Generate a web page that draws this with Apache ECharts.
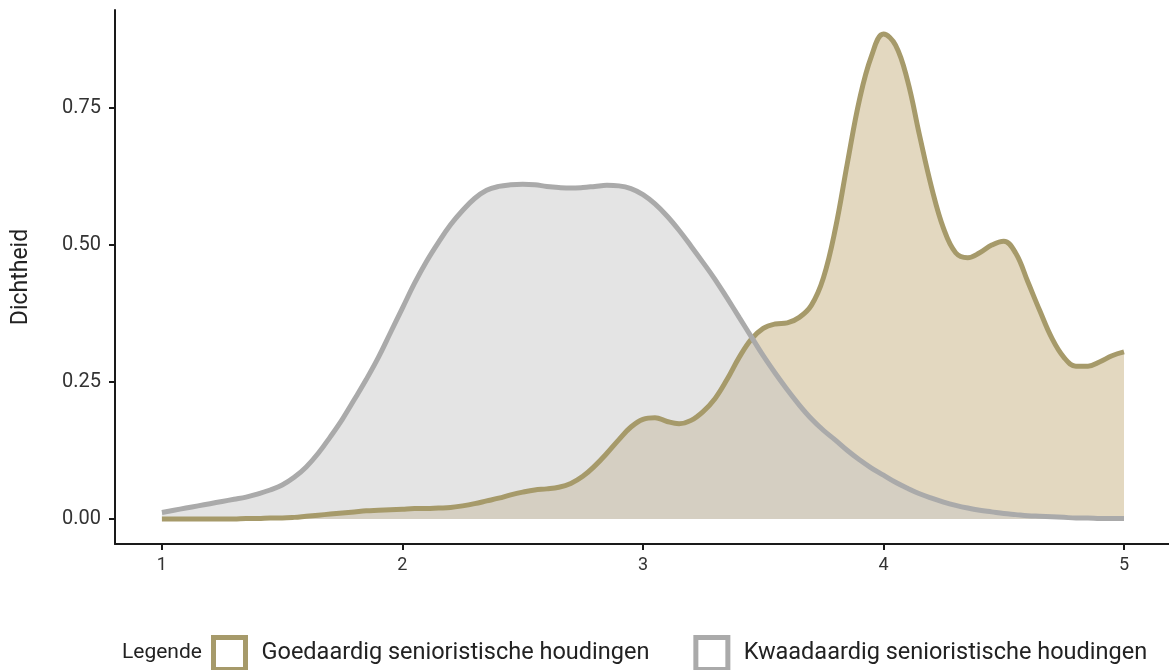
<!DOCTYPE html>
<html>
<head>
<meta charset="utf-8">
<script src="https://cdn.jsdelivr.net/npm/echarts@6/dist/echarts.min.js"></script>
<style>
  html, body { margin: 0; padding: 0; background: #fff; }
  #main { width: 1169px; height: 670px; }
</style>
</head>
<body>
<div id="main"></div>
<script>
// x-waarden (schaal 1-5) en geschatte dichtheden
var xs = [1.00, 1.05, 1.10, 1.15, 1.20, 1.25, 1.30, 1.35, 1.40, 1.45,
          1.50, 1.55, 1.60, 1.65, 1.70, 1.75, 1.80, 1.85, 1.90, 1.95,
          2.00, 2.05, 2.10, 2.15, 2.20, 2.25, 2.30, 2.35, 2.40, 2.45,
          2.50, 2.55, 2.60, 2.65, 2.70, 2.75, 2.80, 2.85, 2.90, 2.95,
          3.00, 3.05, 3.10, 3.15, 3.20, 3.25, 3.30, 3.35, 3.40, 3.45,
          3.50, 3.55, 3.60, 3.65, 3.70, 3.75, 3.80, 3.85, 3.90, 3.95,
          4.00, 4.05, 4.10, 4.15, 4.20, 4.25, 4.30, 4.35, 4.40, 4.45,
          4.50, 4.55, 4.60, 4.65, 4.70, 4.75, 4.80, 4.85, 4.90, 4.95, 5.00];

var goedaardig = [0.000, 0.000, 0.000, 0.000, 0.000, 0.000, 0.000, 0.001, 0.001, 0.002,
                  0.002, 0.003, 0.005, 0.007, 0.009, 0.011, 0.013, 0.015, 0.016, 0.017,
                  0.018, 0.019, 0.019, 0.020, 0.021, 0.024, 0.028, 0.033, 0.038, 0.044,
                  0.049, 0.053, 0.055, 0.058, 0.065, 0.078, 0.097, 0.120, 0.145, 0.168,
                  0.182, 0.185, 0.178, 0.174, 0.180, 0.196, 0.220, 0.255, 0.295, 0.328,
                  0.348, 0.356, 0.358, 0.368, 0.390, 0.440, 0.530, 0.650, 0.765, 0.845,
                  0.885, 0.865, 0.800, 0.700, 0.605, 0.530, 0.486, 0.477, 0.486, 0.500,
                  0.507, 0.485, 0.433, 0.380, 0.330, 0.295, 0.279, 0.279, 0.287, 0.298, 0.305];

var kwaadaardig = [0.012, 0.016, 0.020, 0.024, 0.028, 0.032, 0.036, 0.040, 0.046, 0.053,
                   0.062, 0.076, 0.095, 0.120, 0.150, 0.182, 0.218, 0.255, 0.295, 0.340,
                   0.385, 0.430, 0.470, 0.505, 0.537, 0.563, 0.585, 0.600, 0.607, 0.610,
                   0.611, 0.610, 0.607, 0.605, 0.604, 0.605, 0.607, 0.609, 0.608, 0.603,
                   0.592, 0.575, 0.553, 0.527, 0.498, 0.468, 0.437, 0.403, 0.368, 0.333,
                   0.298, 0.266, 0.236, 0.208, 0.183, 0.162, 0.144, 0.125, 0.108, 0.093,
                   0.080, 0.067, 0.056, 0.046, 0.038, 0.031, 0.025, 0.020, 0.016, 0.013,
                   0.010, 0.008, 0.006, 0.005, 0.004, 0.003, 0.002, 0.002, 0.001, 0.001, 0.001];

var xTicks = [1, 2, 3, 4, 5];
var yTicks = [0, 0.25, 0.5, 0.75];

var seriesNames = ['Goedaardig senioristische houdingen', 'Kwaadaardig senioristische houdingen'];

function pairs(vals) {
  var out = [];
  for (var i = 0; i < xs.length; i++) {
    out.push([xs[i], vals[i]]);
  }
  return out;
}

var myChart = echarts.init(document.getElementById('main'));

var option = {
  animation: false,
  backgroundColor: '#fff',
  textStyle: { fontFamily: 'Roboto' },
  title: {
    text: 'Legende',
    left: 117,
    top: 637,
    textStyle: { fontFamily: 'Roboto', fontSize: 21, fontWeight: 'normal', color: '#222' }
  },
  legend: {
    left: 206,
    top: 630,
    itemWidth: 32,
    itemHeight: 32,
    itemGap: 44,
    textStyle: { fontFamily: 'Roboto', fontSize: 23.5, color: '#222', padding: [0, 0, 0, 11] },
    data: [
      { name: seriesNames[0], icon: 'rect', itemStyle: { color: '#fff', borderColor: '#a69a6a', borderWidth: 5 } },
      { name: seriesNames[1], icon: 'rect', itemStyle: { color: '#fff', borderColor: '#aaaaaa', borderWidth: 5 } }
    ]
  },
  grid: {
    left: 115,
    right: 0,
    top: 10,
    bottom: 126
  },
  xAxis: {
    type: 'value',
    min: 0.805,
    max: 5.187,
    splitLine: { show: false },
    axisLine: { onZero: false, lineStyle: { color: '#1a1a1a', width: 2 } },
    axisTick: { customValues: xTicks, length: 6, lineStyle: { color: '#1a1a1a', width: 2 } },
    axisLabel: { customValues: xTicks, fontSize: 18, color: '#333', margin: 12 }
  },
  yAxis: {
    type: 'value',
    min: -0.0456,
    max: 0.929,
    name: 'Dichtheid',
    nameLocation: 'middle',
    nameGap: 82,
    nameTextStyle: { fontSize: 23, color: '#222' },
    splitLine: { show: false },
    axisLine: { show: true, onZero: false, lineStyle: { color: '#1a1a1a', width: 2 } },
    axisTick: { show: true, customValues: yTicks, length: 6, lineStyle: { color: '#1a1a1a', width: 2 } },
    axisLabel: {
      customValues: yTicks,
      fontSize: 20,
      color: '#333',
      margin: 14,
      formatter: function (v) { return v.toFixed(2); }
    }
  },
  series: [
    {
      name: seriesNames[0],
      type: 'line',
      smooth: 0.4,
      symbol: 'none',
      data: pairs(goedaardig),
      lineStyle: { color: '#a69a6a', width: 5 },
      itemStyle: { color: '#a69a6a' },
      areaStyle: { color: '#e3d8c0', opacity: 1 }
    },
    {
      name: seriesNames[1],
      type: 'line',
      smooth: 0.4,
      symbol: 'none',
      data: pairs(kwaadaardig),
      lineStyle: { color: '#aaaaaa', width: 5 },
      itemStyle: { color: '#aaaaaa' },
      areaStyle: { color: 'rgba(196,196,196,0.46)', opacity: 1 }
    }
  ]
};

myChart.setOption(option);
</script>
</body>
</html>
